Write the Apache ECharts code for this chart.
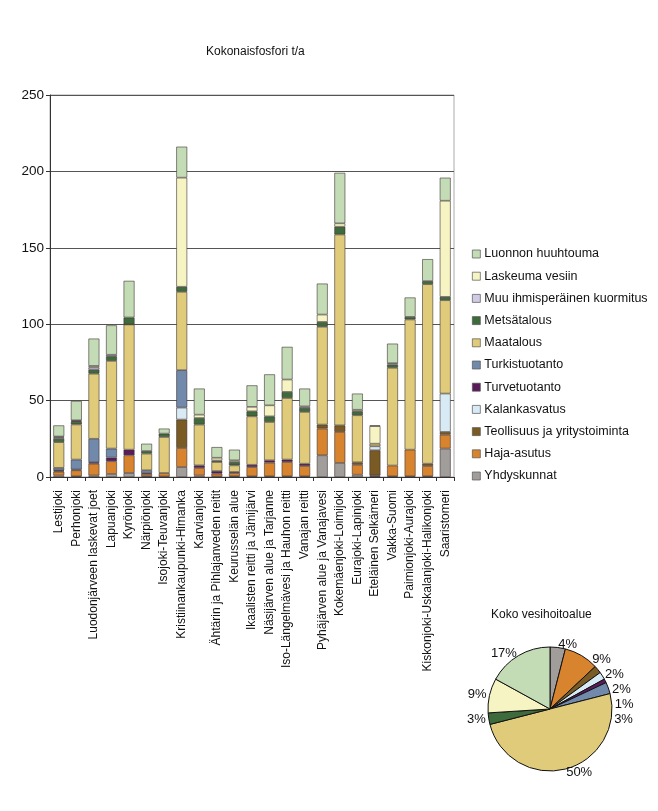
<!DOCTYPE html>
<html>
<head>
<meta charset="utf-8">
<script src="https://cdn.jsdelivr.net/npm/echarts@6/dist/echarts.min.js"></script>
<style>html,body{margin:0;padding:0;background:#fff}#c{width:658px;height:811px}</style>
</head>
<body>
<div id="c"></div>
<script>
var categories = ["Lestijoki","Perhonjoki","Luodonjärveen laskevat joet","Lapuanjoki","Kyrönjoki","Närpiönjoki","Isojoki-Teuvanjoki","Kristiinankaupunki-Himanka","Karvianjoki","Ähtärin ja Pihlajanveden reitit","Keurusselän alue","Ikaalisten reitti ja Jämijärvi","Näsijärven alue ja Tarjanne","Iso-Längelmävesi ja Hauhon reitti","Vanajan reitti","Pyhäjärven alue ja Vanajavesi","Kokemäenjoki-Loimijoki","Eurajoki-Lapinjoki","Eteläinen Selkämeri","Vakka-Suomi","Paimionjoki-Aurajoki","Kiskonjoki-Uskalanjoki-Halikonjoki","Saaristomeri"];

var seriesNames = ["Yhdyskunnat","Haja-asutus","Teollisuus ja yritystoiminta","Kalankasvatus","Turvetuotanto","Turkistuotanto","Maatalous","Metsätalous","Muu ihmisperäinen kuormitus","Laskeuma vesiin","Luonnon huuhtouma"];
var seriesColors = ["#a19d9b","#d8842f","#7b5b24","#d8eaf3","#5b1a5c","#7189ab","#e0cb7b","#3e6b3b","#d0cae4","#f6f4c2","#c4dcb6"];

var yhdyskunnat = [1,0.5,1,2,2.6,0.5,0.3,6.5,1,0.3,0.5,0.5,0.5,0.5,0.5,14.2,9.2,1.5,0.5,0.5,0.5,0.5,18.6];
var hajaAsutus  = [2.5,3.9,7.7,8.3,11.6,1.5,2.3,12.5,4.9,1.9,2.1,6,8.9,9.3,6.7,17.5,20.3,6.5,0.5,7,17.4,6.7,9.1];
var teollisuus  = [0.5,0,0,0,0,0,0,18.6,0,0,0,0,0,0,0,2.6,4.3,1.6,16.5,0,0,1.5,1.8];
var kalankasvatus = [0,0,0,0,0,0,0,7.8,0,0,0,0,0,0,0,0,0,0,2.6,0,0,0,25.1];
var turvetuotanto = [0.5,0.5,1,2.4,3.7,0.5,0,0,1.7,1.7,0.7,1.5,1.5,1.6,1.5,0,0,0,0,0,0,0,0];
var turkistuotanto = [1.5,6.5,15.3,5.9,0,1.9,0,24.5,0,0,0,0,0,0,0,0,0,0,0,0,0,0,0];
var maatalous   = [16.8,23,42.6,57.4,81.9,10.9,23.6,51.3,26.7,5.9,4.3,31.7,25.1,40.3,33.9,64,124.9,30.8,1.7,64,85.2,117.5,61.1];
var metsatalous = [2.2,1.7,2.6,3,4.6,1.7,2.2,3.3,4.3,1,2.2,3.3,3.7,4,2.6,3.2,5.1,2.6,0,2,1.7,2,2.2];
var muu         = [1,0.5,1.5,1,0,0,0,0,0,0,0,0,0,0,1,0,0,0,0,1,0,0,0];
var laskeuma    = [0.5,0.5,1,0,0,0,0,71.4,2.2,1.8,1.1,2.9,7.2,8.1,0,4.8,2.2,1,11.5,0,0,0,62.9];
var luonnon     = [7.3,12.7,17.9,19.3,24,4.8,3.3,20.3,17.1,7,7,14.1,20.3,21.4,11.7,20.3,33.1,10.6,0.5,12.8,12.7,14.4,15.1];

var seriesValues = [yhdyskunnat,hajaAsutus,teollisuus,kalankasvatus,turvetuotanto,turkistuotanto,maatalous,metsatalous,muu,laskeuma,luonnon];

// Koko vesihoitoalue, % shares (same order as seriesNames)
var piePercent = [4,9,2,2,1,3,50,3,0,9,17];

var yTicks = [0,50,100,150,200,250];

var series = seriesNames.map(function(n,i){
  return {
    name:n, type:'bar', stack:'total', barWidth:11,
    itemStyle:{color:seriesColors[i], borderColor:'rgba(60,50,50,0.85)', borderWidth:0.7},
    data:seriesValues[i].map(function(v){return v>0?v:null;})
  };
});

var pieData = [];
seriesNames.forEach(function(n,i){
  if(piePercent[i]>0) pieData.push({name:n, value:piePercent[i], itemStyle:{color:seriesColors[i]}});
});

series.push({
  type:'pie', center:[550,709], radius:62, startAngle:90, clockwise:true,
  itemStyle:{borderColor:'#111', borderWidth:1},
  label:{show:true, position:'outside', formatter:'{c}%', fontFamily:'Liberation Sans, Arial, sans-serif', fontSize:13, color:'#111', distanceToLabelLine:0},
  labelLine:{show:false, length:3, length2:0},
  emphasis:{disabled:true},
  data:pieData
});

var chart = echarts.init(document.getElementById('c'), null, {renderer:'canvas'});
chart.setOption({
  animation:false,
  backgroundColor:'#fff',
  title:[
    {text:'Kokonaisfosfori t/a', left:201, top:41, textStyle:{fontFamily:'Liberation Sans, Arial, sans-serif', fontSize:12, fontWeight:'normal', color:'#111'}},
    {text:'Koko vesihoitoalue', left:486, top:604, textStyle:{fontFamily:'Liberation Sans, Arial, sans-serif', fontSize:12, fontWeight:'normal', color:'#111'}}
  ],
  legend:{
    orient:'vertical', left:467, top:242, itemWidth:8, itemHeight:8, itemGap:8.2,
    icon:'rect',
    itemStyle:{borderColor:'#555', borderWidth:0.7},
    data:seriesNames.slice().reverse(),
    textStyle:{fontFamily:'Liberation Sans, Arial, sans-serif', fontSize:12.5, color:'#111', lineHeight:14, padding:[0,0,0,-1]},
    selectedMode:false
  },
  grid:{left:50, right:204, top:95, bottom:334, show:true, borderColor:'#aaa', borderWidth:1},
  xAxis:{
    type:'category', data:categories,
    axisLine:{lineStyle:{color:'#333'}},
    axisTick:{show:true, length:4, alignWithLabel:false, lineStyle:{color:'#333'}},
    axisLabel:{rotate:90, interval:0, margin:13, fontFamily:'Liberation Sans, Arial, sans-serif', fontSize:12, color:'#111'}
  },
  yAxis:{
    type:'value', min:0, max:250, interval:50,
    axisLine:{show:true, lineStyle:{color:'#333'}},
    axisTick:{show:true, length:4, lineStyle:{color:'#333'}},
    axisLabel:{margin:6, fontFamily:'Liberation Sans, Arial, sans-serif', fontSize:13.5, color:'#111',
      formatter:function(v){return yTicks.indexOf(v)>=0?String(v):'';}},
    splitLine:{show:true, lineStyle:{color:'#555', width:1}}
  },
  series:series
});
</script>
</body>
</html>
